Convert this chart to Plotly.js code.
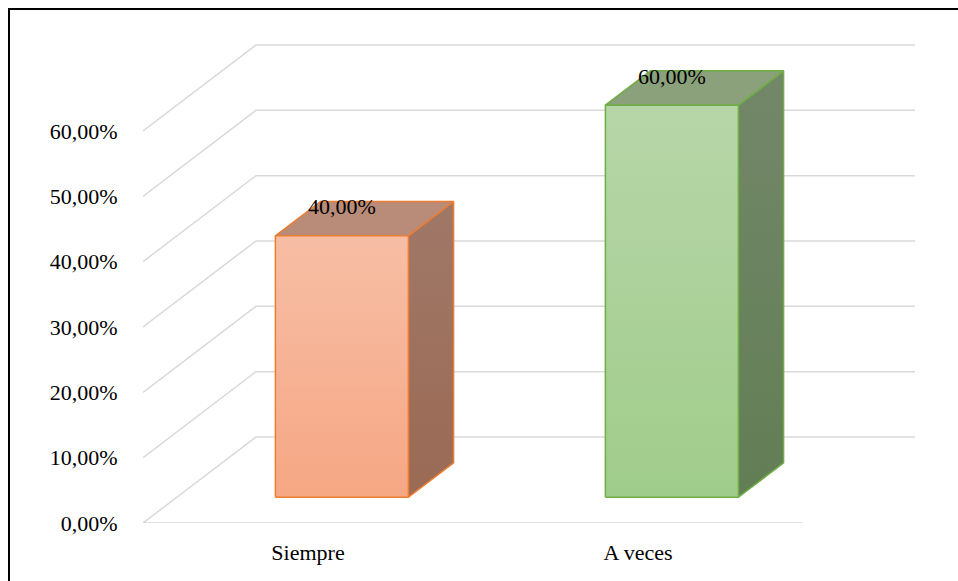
<!DOCTYPE html>
<html>
<head>
<meta charset="utf-8">
<script src="https://cdn.plot.ly/plotly-3.0.1.min.js"></script>
<style>
  html, body { margin: 0; padding: 0; background: #fff; overflow: hidden; }
  #wrap { position: relative; width: 958px; height: 581px; }
  #chart { position: absolute; left: 0; top: 0; width: 958px; height: 581px; }
  #frame { position: absolute; left: 8px; top: 8px; width: 980px; height: 600px;
           border: 2px solid #000; pointer-events: none; box-sizing: border-box; }
</style>
</head>
<body>
<div id="wrap"><div id="chart"></div><div id="frame"></div></div>
<script>
// ---- data ----
const categories = ['Siempre', 'A veces'];
const values = [40, 60];                    // percent
const valueLabels = ['40,00%', '60,00%'];
const yTickVals = [0, 10, 20, 30, 40, 50, 60];
const yTickLabels = ['0,00%', '10,00%', '20,00%', '30,00%', '40,00%', '50,00%', '60,00%'];

// ---- styling ----
const frontTop = ['#F7BEA5', '#B7D6A8'];
const frontBottom = ['#F6A784', '#A0CC8B'];
const sideTop = ['#A07868', '#738769'];
const sideBottom = ['#9A6A54', '#627E55'];
const topColor = ['#B98C7A', '#8BA17C'];
const edgeColor = ['#ED7D31', '#70AD47'];

// oblique 3D geometry (axis units)
const DX = 0.3424, DY = 13.17;        // full floor depth offset
const BAR_FRONT = 0.3, BAR_BACK = 0.7; // bar depth position (fraction)
const HALF = 0.2015;                  // half width of bar front face
const FONT = '"Liberation Serif", "Times New Roman", serif';

const traces = [];

// gridlines (front diagonals + back horizontals + floor)
const gx = [], gy = [];
yTickVals.forEach(v => {
  if (v === 0) { gx.push(1.5); gy.push(0); }
  gx.push(-0.5, -0.5 + DX, 1.5 + DX, null);
  gy.push(v, v + DY, v + DY, null);
});
traces.push({ x: gx, y: gy, type: 'scatter', mode: 'lines',
  line: { color: '#D9D9D9', width: 1.5 }, hoverinfo: 'skip', showlegend: false });

const ox = (BAR_BACK - BAR_FRONT) * DX, oy = (BAR_BACK - BAR_FRONT) * DY;
values.forEach((v, i) => {
  const cx = i + BAR_FRONT * DX;
  const x0 = cx - HALF, x1 = cx + HALF;
  const y0 = BAR_FRONT * DY, y1 = y0 + v;
  // side face
  traces.push({ type: 'scatter', mode: 'lines', fill: 'toself',
    x: [x1, x1 + ox, x1 + ox, x1, x1], y: [y0, y0 + oy, y1 + oy, y1, y0],
    line: { color: edgeColor[i], width: 1.5 },
    fillgradient: { type: 'vertical', colorscale: [[0, sideBottom[i]], [1, sideTop[i]]] },
    hoverinfo: 'skip', showlegend: false });
  // top face
  traces.push({ type: 'scatter', mode: 'lines', fill: 'toself',
    x: [x0, x1, x1 + ox, x0 + ox, x0], y: [y1, y1, y1 + oy, y1 + oy, y1],
    line: { color: edgeColor[i], width: 1.5 }, fillcolor: topColor[i],
    hoverinfo: 'skip', showlegend: false });
  // front face
  traces.push({ type: 'scatter', mode: 'lines', fill: 'toself',
    x: [x0, x1, x1, x0, x0], y: [y0, y0, y1, y1, y0],
    line: { color: edgeColor[i], width: 1.5 },
    fillgradient: { type: 'vertical', colorscale: [[0, frontBottom[i]], [1, frontTop[i]]] },
    hoverinfo: 'skip', showlegend: false });
  // data label
  traces.push({ type: 'scatter', mode: 'text', x: [cx], y: [y1 + 0.5 * oy + 1.5],
    text: [valueLabels[i]], textposition: 'middle center',
    textfont: { family: FONT, size: 22, color: '#000' },
    hoverinfo: 'skip', showlegend: false, cliponaxis: false });
});

const layout = {
  width: 958, height: 581,
  margin: { l: 143, r: 43, t: 40, b: 58 },
  paper_bgcolor: '#fff', plot_bgcolor: '#fff',
  showlegend: false,
  xaxis: { range: [-0.5, 1.8394], showgrid: false, zeroline: false, showline: false,
    tickmode: 'array', tickvals: [0, 1], ticktext: categories,
    ticks: 'outside', ticklen: 10, tickcolor: 'rgba(0,0,0,0)',
    tickfont: { family: FONT, size: 22, color: '#000' }, fixedrange: true },
  yaxis: { range: [0, 73.93], showgrid: false, zeroline: false, showline: false,
    tickmode: 'array', tickvals: yTickVals, ticktext: yTickLabels,
    ticks: 'outside', ticklen: 20, tickcolor: 'rgba(0,0,0,0)',
    tickfont: { family: FONT, size: 22, color: '#000' }, fixedrange: true }
};

Plotly.newPlot('chart', traces, layout, { staticPlot: true, displayModeBar: false });
</script>
</body>
</html>
